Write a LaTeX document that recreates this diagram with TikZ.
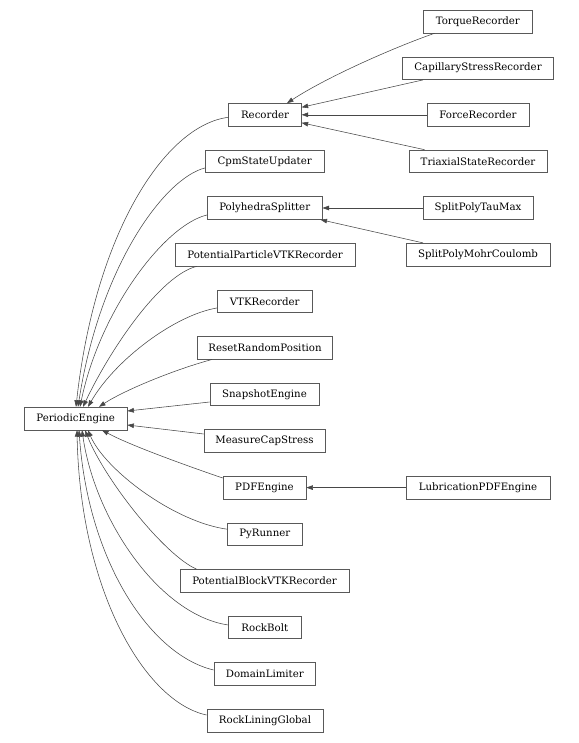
\documentclass[tikz,border=0pt]{standalone}
\usepackage{fontspec}
\setmainfont{DejaVu Serif}
\usetikzlibrary{arrows.meta,calc}
\begin{document}
\begin{tikzpicture}[x=1pt,y=-1pt,
  cls/.style={draw=black!65, line width=0.65pt, fill=white, minimum height=22.7pt, inner sep=0pt, font=\fontsize{10.2}{12}\selectfont, text=black},
  inh/.style={draw=black!72, line width=0.55pt, -{Triangle[length=6.5pt,width=4.6pt]}}]
\useasboundingbox (0,0) rectangle (578,743);
% column 0
\node[cls, minimum width=102.7pt] (PE) at (75.7,418.5) {PeriodicEngine};
% column 1
\node[cls, minimum width=72.6pt]  (Rec) at (265,114.8) {Recorder};
\node[cls, minimum width=119pt]   (Cpm) at (264.7,161.4) {CpmStateUpdater};
\node[cls, minimum width=115pt]   (Poly) at (264.7,208) {PolyhedraSplitter};
\node[cls, minimum width=179.7pt] (PPV) at (265,254.6) {PotentialParticleVTKRecorder};
\node[cls, minimum width=95pt]    (VTK) at (264.7,301.2) {VTKRecorder};
\node[cls, minimum width=135.6pt] (RRP) at (265,347.8) {ResetRandomPosition};
\node[cls, minimum width=109pt]   (Snap) at (264.5,394.4) {SnapshotEngine};
\node[cls, minimum width=121pt]   (MCS) at (264.5,441) {MeasureCapStress};
\node[cls, minimum width=83pt]    (PDF) at (264.5,487.6) {PDFEngine};
\node[cls, minimum width=74.4pt]  (Py) at (264.8,534.2) {PyRunner};
\node[cls, minimum width=169pt]   (PBV) at (264.5,580.8) {PotentialBlockVTKRecorder};
\node[cls, minimum width=72.3pt]  (RB) at (264.8,627.4) {RockBolt};
\node[cls, minimum width=101.6pt] (DL) at (264.8,674) {DomainLimiter};
\node[cls, minimum width=116pt]   (RLG) at (265,720.6) {RockLiningGlobal};
% column 2
\node[cls, minimum width=108.4pt] (Tq) at (477.8,21.6) {TorqueRecorder};
\node[cls, minimum width=151pt]   (Cap) at (478,68.2) {CapillaryStressRecorder};
\node[cls, minimum width=102pt]   (For) at (478,114.8) {ForceRecorder};
\node[cls, minimum width=138pt]   (Tri) at (478,161.4) {TriaxialStateRecorder};
\node[cls, minimum width=110pt]   (Tau) at (478,208) {SplitPolyTauMax};
\node[cls, minimum width=144pt]   (Mohr) at (478,254.6) {SplitPolyMohrCoulomb};
\node[cls, minimum width=144pt]   (Lub) at (478,487.6) {LubricationPDFEngine};
% edges to Recorder
\draw[inh] ($(Tq.south west)+(11.4,0)$) .. controls +(-35,12) and +(43,-28) .. ($(Rec.north)+(22,0)$);
\draw[inh] ($(Cap.south west)+(21,0)$) -- ($(Rec.east)+(0,-7.5)$);
\draw[inh] (For.west) -- (Rec.east);
\draw[inh] ($(Tri.north west)+(16,0)$) -- ($(Rec.east)+(0,8)$);
% edges to PolyhedraSplitter
\draw[inh] (Tau.west) -- (Poly.east);
\draw[inh] ($(Mohr.north west)+(17.5,0)$) -- ($(Poly.south east)+(-2,0)$);
% edge to PDFEngine
\draw[inh] (Lub.west) -- (PDF.east);
% edges to PeriodicEngine
\draw[inh] ($(Rec.west)+(0,2.5)$) .. controls +(-63.7,8) and +(19,-173) .. ($(PE.north)+(0.3,0)$);
\draw[inh] ($(Cpm.west)+(0,6.6)$) .. controls +(-40,10) and +(22,-142) .. ($(PE.north)+(2.3,0)$);
\draw[inh] ($(Poly.west)+(0,7)$) .. controls +(-42,10) and +(20,-97) .. ($(PE.north)+(4.3,0)$);
\draw[inh] ($(PPV.south)+(-68,0)$) .. controls +(-37,9) and +(27,-57) .. ($(PE.north)+(7.3,0)$);
\draw[inh] ($(VTK.west)+(0,6.8)$) .. controls +(-42,7) and +(27,-47) .. ($(PE.north)+(12.3,0)$);
\draw[inh] ($(RRP.south)+(-53,0)$) .. controls +(-37,10) and +(26,-17) .. ($(PE.north)+(23.3,0)$);
\draw[inh] ($(Snap.west)+(0,7.6)$) -- ($(PE.east)+(0,-7.5)$);
\draw[inh] ($(MCS.west)+(0,-7)$) -- ($(PE.east)+(0,6.5)$);
\draw[inh] ($(PDF.west)+(0,-9.6)$) .. controls +(-38,-13) and +(28,15) .. ($(PE.south)+(26.3,0)$);
\draw[inh] ($(Py.west)+(0,-5)$) .. controls +(-52.6,-7) and +(17,40) .. ($(PE.south)+(12.3,0)$);
\draw[inh] ($(PBV.north)+(-68,0)$) .. controls +(-32,-14) and +(20,50) .. ($(PE.south)+(9.3,0)$);
\draw[inh] ($(RB.west)+(0,-2.4)$) .. controls +(-68.7,-10) and +(13,90) .. ($(PE.south)+(6.3,0)$);
\draw[inh] ($(DL.west)+(0,-4)$) .. controls +(-64,-15) and +(9,130) .. ($(PE.south)+(3.3,0)$);
\draw[inh] ($(RLG.west)+(0,-5.6)$) .. controls +(-62,-13) and +(3,160) .. ($(PE.south)+(1.3,0)$);
\end{tikzpicture}
\end{document}
